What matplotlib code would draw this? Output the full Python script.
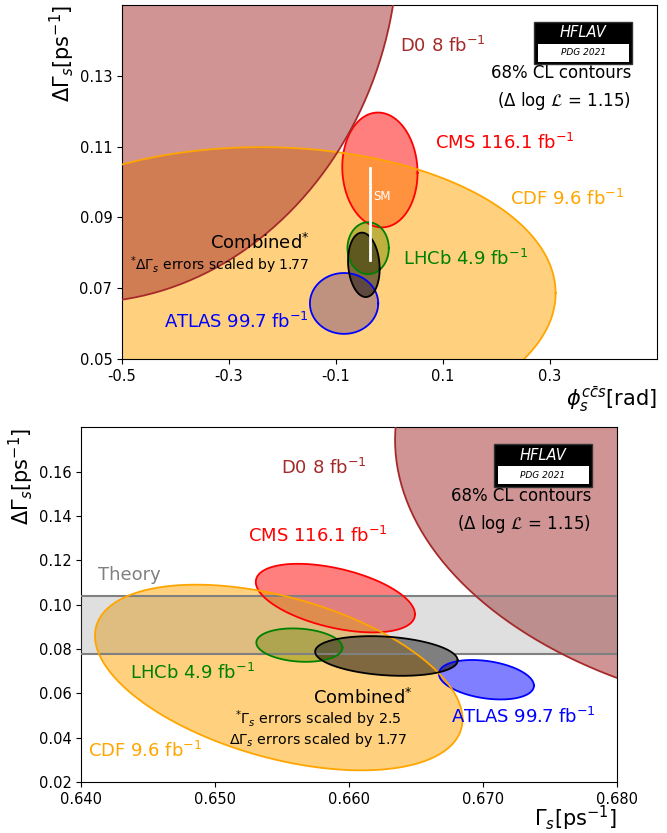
"""Bs mixing parameters: 68% CL contours in (phi_s, DGamma_s) and (Gamma_s, DGamma_s)."""

import numpy as np
import matplotlib.pyplot as plt
from matplotlib.patches import Rectangle
from matplotlib.ticker import FormatStrFormatter

plt.rcParams['axes.unicode_minus'] = False
plt.rcParams['mathtext.fontset'] = 'dejavusans'

# Delta log L = 1.15 -> 68% CL in two dimensions
dll = 1.15
nsig = np.sqrt(2 * dll)

# Drawing order matters for the overlapping fills
names = ['CMS', 'ATLAS', 'LHCb', 'CDF', 'D0', 'Combined']
colours = ['red', 'blue', 'green', 'orange', 'brown', 'black']

# phi_s [rad] vs DGamma_s [ps-1]
phi_val = [-0.018, -0.085, -0.040, -0.240, -0.545, -0.048]
phi_err = [0.0464, 0.0421, 0.0255, 0.363, 0.370, 0.0195]
dg1_val = [0.1034, 0.0657, 0.0813, 0.0686, 0.163, 0.0766]
dg1_err = [0.0107, 0.00567, 0.00484, 0.0272, 0.0640, 0.0060]
rho1 = [-0.05, 0.0, 0.0, 0.0, 0.05, -0.12]

# Gamma_s [ps-1] vs DGamma_s [ps-1]
gs_val = [0.65897, 0.67025, 0.65628, 0.65474, 0.693, 0.66278]
gs_err = [0.00392, 0.00234, 0.00212, 0.00905, 0.0195, 0.00351]
dg2_val = [0.1030, 0.0662, 0.0818, 0.0672, 0.163, 0.0769]
dg2_err = [0.0102, 0.00587, 0.00497, 0.0276, 0.0745, 0.0059]
rho2 = [-0.47, -0.30, -0.15, -0.45, -0.10, -0.22]

# Standard Model prediction
sm_phi = -0.036
sm_dg = 0.091
sm_dg_err = 0.013


def contour(x, sx, y, sy, rho):
    t = np.linspace(0, 2 * np.pi, 400)
    xs = x + nsig * sx * np.cos(t)
    ys = y + nsig * sy * (rho * np.cos(t) + np.sqrt(1 - rho**2) * np.sin(t))
    return xs, ys


def draw_contours(ax, xv, xe, yv, ye, rho):
    for i, c in enumerate(colours):
        xs, ys = contour(xv[i], xe[i], yv[i], ye[i], rho[i])
        ax.fill(xs, ys, color=c, alpha=0.5, lw=0, zorder=2 + 0.1 * i)
    for i, c in enumerate(colours):
        xs, ys = contour(xv[i], xe[i], yv[i], ye[i], rho[i])
        ax.plot(xs, ys, color=c, lw=1.3, zorder=4 + 0.1 * i)


def logo(ax):
    ax.add_patch(Rectangle((0.771, 0.832), 0.182, 0.121, transform=ax.transAxes,
                           facecolor='black', edgecolor='#333333', lw=1, zorder=6))
    ax.add_patch(Rectangle((0.777, 0.840), 0.170, 0.050, transform=ax.transAxes,
                           facecolor='white', lw=0, zorder=7))
    ax.text(0.862, 0.922, 'HFLAV', transform=ax.transAxes, color='white',
            style='italic', fontsize=10.5, ha='center', va='center', zorder=8)
    ax.text(0.862, 0.865, 'PDG 2021', transform=ax.transAxes, color='black',
            style='italic', fontsize=6.5, ha='center', va='center', zorder=8)
    ax.text(0.952, 0.807, '68% CL contours', transform=ax.transAxes,
            fontsize=12, ha='right', va='center', zorder=8)
    ax.text(0.952, 0.728, r'($\Delta$ log $\mathcal{L}$ = 1.15)', transform=ax.transAxes,
            fontsize=12, ha='right', va='center', zorder=8)


fig = plt.figure(figsize=(6.67, 8.33), dpi=100)

# phi_s vs DGamma_s
ax1 = fig.add_axes([0.183, 0.569, 0.802, 0.425])
draw_contours(ax1, phi_val, phi_err, dg1_val, dg1_err, rho1)
ax1.plot([sm_phi, sm_phi], [sm_dg - sm_dg_err, sm_dg + sm_dg_err], color='white', lw=2, zorder=5)
ax1.text(sm_phi + 0.005, 0.0958, 'SM', color='white', fontsize=8.5, va='center', zorder=8)
ax1.set_xlim(-0.5, 0.5)
ax1.set_ylim(0.05, 0.15)
ax1.set_xticks([-0.5, -0.3, -0.1, 0.1, 0.3])
ax1.set_yticks([0.05, 0.07, 0.09, 0.11, 0.13])
ax1.tick_params(labelsize=10.5)
ax1.set_xlabel(r'$\phi_s^{c\bar{c}s}$[rad]', fontsize=15, loc='right', labelpad=0)
ax1.set_ylabel(r'$\Delta\Gamma_s[\mathrm{ps}^{-1}]$', fontsize=15, loc='top', labelpad=2)
ax1.text(0.0196, 0.1383, r'D0 8 fb$^{-1}$', color='brown', fontsize=13, va='center', zorder=8)
ax1.text(0.085, 0.1110, r'CMS 116.1 fb$^{-1}$', color='red', fontsize=13, va='center', zorder=8)
ax1.text(0.2252, 0.0952, r'CDF 9.6 fb$^{-1}$', color='orange', fontsize=13, va='center', zorder=8)
ax1.text(0.0247, 0.0782, r'LHCb 4.9 fb$^{-1}$', color='green', fontsize=13, va='center', zorder=8)
ax1.text(-0.1486, 0.0829, r'Combined$^{*}$', color='black', fontsize=13, ha='right', va='center', zorder=8)
ax1.text(-0.150, 0.0766, r'$^{*}\Delta\Gamma_s$ errors scaled by 1.77', color='black', fontsize=10,
         ha='right', va='center', zorder=8)
ax1.text(-0.152, 0.0606, r'ATLAS 99.7 fb$^{-1}$', color='blue', fontsize=13, ha='right', va='center', zorder=8)
logo(ax1)

# Gamma_s vs DGamma_s
ax2 = fig.add_axes([0.122, 0.061, 0.803, 0.426])
draw_contours(ax2, gs_val, gs_err, dg2_val, dg2_err, rho2)
ax2.axhspan(sm_dg - sm_dg_err, sm_dg + sm_dg_err, color='gray', alpha=0.25, lw=0, zorder=3)
ax2.axhline(sm_dg - sm_dg_err, color='gray', lw=1.5, zorder=3.5)
ax2.axhline(sm_dg + sm_dg_err, color='gray', lw=1.5, zorder=3.5)
ax2.text(0.64125, 0.1136, 'Theory', color='gray', fontsize=13, va='center', zorder=8)
ax2.set_xlim(0.64, 0.68)
ax2.set_ylim(0.02, 0.18)
ax2.set_xticks([0.64, 0.65, 0.66, 0.67, 0.68])
ax2.set_yticks([0.02, 0.04, 0.06, 0.08, 0.10, 0.12, 0.14, 0.16])
ax2.xaxis.set_major_formatter(FormatStrFormatter('%.3f'))
ax2.yaxis.set_major_formatter(FormatStrFormatter('%.2f'))
ax2.tick_params(labelsize=10.5)
ax2.set_xlabel(r'$\Gamma_s[\mathrm{ps}^{-1}]$', fontsize=15, loc='right', labelpad=-2)
ax2.set_ylabel(r'$\Delta\Gamma_s[\mathrm{ps}^{-1}]$', fontsize=15, loc='top', labelpad=2)
ax2.text(0.65494, 0.1618, r'D0 8 fb$^{-1}$', color='brown', fontsize=13, va='center', zorder=8)
ax2.text(0.65243, 0.1308, r'CMS 116.1 fb$^{-1}$', color='red', fontsize=13, va='center', zorder=8)
ax2.text(0.64362, 0.0694, r'LHCb 4.9 fb$^{-1}$', color='green', fontsize=13, va='center', zorder=8)
ax2.text(0.66476, 0.0578, r'Combined$^{*}$', color='black', fontsize=13, ha='right', va='center', zorder=8)
ax2.text(0.65765, 0.0440, '$^{*}\\Gamma_s$ errors scaled by 2.5\n$\\Delta\\Gamma_s$ errors scaled by 1.77',
         color='black', fontsize=10.3, ha='center', va='center', linespacing=1.05, zorder=8)
ax2.text(0.64051, 0.0342, r'CDF 9.6 fb$^{-1}$', color='orange', fontsize=13, va='center', zorder=8)
ax2.text(0.66757, 0.0495, r'ATLAS 99.7 fb$^{-1}$', color='blue', fontsize=13, va='center', zorder=8)
logo(ax2)

fig.savefig('out.png', dpi=100)
